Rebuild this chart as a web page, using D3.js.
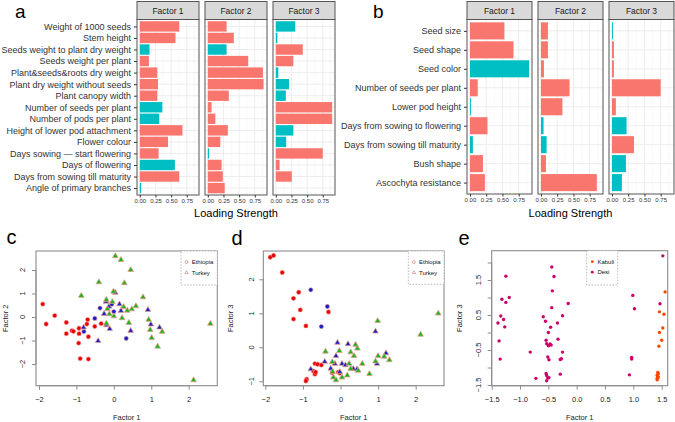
<!DOCTYPE html>
<html><head><meta charset="utf-8">
<script src="https://cdn.jsdelivr.net/npm/d3@7"></script>
<style>body{margin:0;background:#fff} svg{display:block;font-family:"Liberation Sans",Arial,Helvetica,sans-serif}</style>
</head><body><svg id="fig" width="675" height="422"></svg>
<script>
// ---------------- DATA ----------------
const factorNames = ["Factor 1", "Factor 2", "Factor 3"];
const loadingTicks = [0, 0.25, 0.5, 0.75];

const traitsA = ["Weight of 1000 seeds","Stem height","Seeds weight to plant dry weight","Seeds weight per plant",
  "Plant&seeds&roots dry weight","Plant dry weight without seeds","Plant canopy width","Number of seeds per plant",
  "Number of pods per plant","Height of lower pod attachment","Flower colour","Days sowing \u2014 start flowering",
  "Days of flowering","Days from sowing till maturity","Angle of primary branches"];
// signed loadings (positive = red, negative = teal)
const loadA1 = [0.63, 0.57, -0.155, 0.145, 0.28, 0.29, 0.28, -0.36, -0.31, 0.68, 0.45, 0.30, -0.56, 0.63, -0.02];
const loadA2 = [0.30, 0.415, -0.30, 0.645, 0.88, 0.89, 0.335, 0.06, 0.12, 0.32, 0.20, -0.02, 0.22, 0.24, 0.27];
const loadA3 = [-0.31, -0.025, 0.43, 0.28, -0.04, -0.21, -0.16, 0.90, 0.90, -0.28, -0.165, 0.75, 0.06, 0.255, 0];

const traitsB = ["Seed size","Seed shape","Seed color","Number of seeds per plant","Lower pod height",
  "Days from sowing to flowering","Days from sowing till maturity","Bush shape","Ascochyta resistance"];
const loadB1 = [0.53, 0.67, -0.91, 0.12, -0.015, 0.27, -0.045, 0.20, 0.23];
const loadB2 = [0.107, 0.107, 0.046, 0.44, 0.33, -0.04, -0.087, 0.077, 0.86];
const loadB3 = [-0.015, 0.03, 0.03, 0.75, 0.06, -0.225, 0.34, -0.215, -0.153];

// panel c: Factor 1 vs Factor 2
const cEthCl1 = [[-1.90,0.55],[-1.81,-0.30],[-1.58,0.06],[-1.27,-0.23],[-1.27,-0.71],[-1.12,-0.58],[-1.08,-0.61],
  [-0.93,-0.48],[-0.93,-0.71],[-0.94,-1.11],[-0.90,-1.77],[-0.68,-1.79],[-0.68,-0.84],[-0.72,-0.30],[-0.70,-0.11],
  [-0.51,-0.40],[-0.34,-0.28]];
const cEthCl2 = [[-0.37,0.38],[-0.51,-0.06],[-0.80,-0.62],[0.00,0.23],[0.33,-0.91],[-0.06,0.54]];
const cTurCl2 = [[0.04,1.04],[-0.21,0.66],[-0.13,0.45],[-0.26,0.14],[0.15,0.55],[0.19,0.27],[0.91,0.31],
  [0.99,-0.31],[1.22,-0.44],[0.45,-0.58],[-0.11,-0.50],[-0.20,-0.34],[-0.42,-1.01],[-0.81,-0.44]];
const cTurCl3 = [[0.04,2.60],[0.19,2.44],[0.45,2.01],[-0.40,1.49],[0.28,1.45],[-0.87,0.91],[-0.01,1.09],[0.78,0.85],
  [-0.20,0.74],[-0.04,0.65],[-0.17,0.35],[0.26,0.44],[0.59,0.47],[0.48,0.34],[0.36,0.28],[-0.12,0.13],[0.00,0.04],
  [0.22,-0.04],[0.93,-0.11],[-0.20,-0.27],[0.40,-0.24],[0.97,-0.54],[1.29,-0.62],[1.01,-0.88],[1.17,-1.25],
  [2.13,-2.68],[2.58,-0.28]];

// panel d: Factor 1 vs Factor 3
const dEthCl1 = [[-1.87,2.65],[-1.78,2.70],[-1.55,2.20],[-1.11,1.62],[-1.25,1.44],[-1.07,1.10],[-1.25,0.83],
  [-0.92,0.63],[-0.32,1.04],[-0.90,-0.94],[-0.92,-0.99],[-0.72,-0.70],[-0.68,-0.79],[-0.66,-0.73],[-0.68,-0.48],
  [-0.61,-0.50],[-0.51,-0.52],[-0.06,-0.73],[-0.02,-0.76],[-0.22,-0.75]];
const dEthCl2 = [[-0.79,1.69],[-0.35,1.20],[-0.51,0.61]];
const dTurCl2 = [[0.93,0.47],[-0.08,0.14],[0.20,0.10],[1.21,-0.17],[0.97,-0.48],[-0.12,-0.25],[-0.42,-0.42],
  [-0.79,-0.64],[-0.15,-0.48],[-0.26,-0.62],[0.04,-0.48],[0.13,-0.52],[0.34,-0.63],[0.44,-0.64],[-0.02,-0.72]];
const dTurCl3 = [[2.60,1.00],[2.13,0.38],[0.99,0.78],[0.40,0.08],[0.45,-0.03],[-0.03,-0.10],[-0.40,-0.12],
  [0.27,-0.14],[0.36,-0.25],[1.00,-0.25],[1.16,-0.27],[1.30,-0.37],[0.93,-0.41],[0.58,-0.48],[0.77,-0.78],
  [-0.22,-0.43],[0.23,-0.48],[0.27,-0.63],[0.47,-0.68],[0.18,-0.82],[0.04,-0.88],[-0.19,-0.88],[-0.12,-0.96],
  [-0.21,-0.72]];

// panel e: Factor 1 vs Factor 3 by type
const eDesi = [[-1.25,1.61],[-1.25,0.86],[-1.32,0.95],[-1.19,1.00],[-1.34,0.47],[-1.29,0.37],[-1.39,0.27],
  [-1.27,0.16],[-1.37,-0.24],[-1.35,-0.76],[-0.44,1.87],[-0.40,1.60],[-0.43,1.19],[-0.44,0.71],[-0.59,0.45],
  [-0.55,0.32],[-0.15,0.83],[-0.25,0.48],[-0.34,0.27],[-0.46,0.15],[-0.50,0.00],[-0.54,-0.22],[-0.53,-0.32],
  [-0.47,-0.33],[-0.50,-0.38],[-0.45,-0.36],[-0.33,-0.19],[-0.82,-0.56],[-0.25,-0.56],[-0.51,-0.70],[-0.49,-0.78],
  [-0.29,-0.77],[-0.27,-0.75],[-0.29,-1.19],[-0.72,-1.31],[-0.54,-1.17],[-0.53,-1.23],[-0.49,-1.29],[-0.53,-1.38],
  [-0.51,-1.30],[0.97,-0.71],[0.97,-0.76],[0.93,-1.21],[0.99,1.06],[1.02,0.68],[1.52,2.19],[1.47,0.82]];
const eKabuli = [[1.56,1.16],[1.46,0.59],[1.54,0.52],[1.52,0.13],[1.46,0.00],[1.50,-0.22],[1.45,-0.39],
  [1.43,-1.14],[1.44,-1.18],[1.42,-1.22],[1.43,-1.25],[1.44,-1.28],[1.42,-1.31],[1.42,-1.35]];

// ---------------- DRAWING ----------------
const svg = d3.select("#fig");
const RED = "#F8766D", TEAL = "#00BFC4";

function facetChart(traits, loads, panelsX, top, bottom, xDom, titleX) {
  const y = d3.scalePoint().domain(traits).range([top, bottom]).padding(0.6);
  const bh = y.step() * 0.9;
  const gy = svg.append("g").attr("transform", `translate(${panelsX[0][0]},0)`)
    .call(d3.axisLeft(y).tickSize(3).tickPadding(3));
  gy.select(".domain").remove();
  gy.selectAll("line").attr("stroke", "#333");
  gy.selectAll("text").attr("font-size", 9).attr("fill", "#333").attr("font-family", "Liberation Sans, Arial, sans-serif");

  panelsX.forEach((px, i) => {
    const x = d3.scaleLinear().domain(xDom).range(px);
    const g = svg.append("g");
    g.append("rect").attr("x", px[0]).attr("y", top).attr("width", px[1]-px[0]).attr("height", bottom-top).attr("fill", "#fff");
    const minor = [0.125, 0.375, 0.625, 0.875].filter(v => v <= xDom[1]);
    g.selectAll(".mn").data(minor).join("line").attr("x1", d => x(d)).attr("x2", d => x(d))
      .attr("y1", top).attr("y2", bottom).attr("stroke", "#F2F2F2").attr("stroke-width", 0.5);
    g.selectAll(".mj").data(loadingTicks).join("line").attr("x1", d => x(d)).attr("x2", d => x(d))
      .attr("y1", top).attr("y2", bottom).attr("stroke", "#EBEBEB").attr("stroke-width", 0.9);
    g.selectAll(".hg").data(traits).join("line").attr("x1", px[0]).attr("x2", px[1])
      .attr("y1", d => y(d)).attr("y2", d => y(d)).attr("stroke", "#EBEBEB").attr("stroke-width", 0.9);
    g.selectAll(".bar").data(traits.map((t, j) => ({t, v: loads[i][j]}))).join("rect")
      .attr("x", x(0)).attr("y", d => y(d.t) - bh/2)
      .attr("width", d => Math.max(0, x(Math.abs(d.v)) - x(0))).attr("height", bh)
      .attr("fill", d => d.v >= 0 ? RED : TEAL);
    g.append("rect").attr("x", px[0]).attr("y", top).attr("width", px[1]-px[0]).attr("height", bottom-top)
      .attr("fill", "none").attr("stroke", "#555").attr("stroke-width", 1);
    // strip
    g.append("rect").attr("x", px[0]).attr("y", 1.5).attr("width", px[1]-px[0]).attr("height", top-1.5)
      .attr("fill", "#D9D9D9").attr("stroke", "#555").attr("stroke-width", 1);
    g.append("text").attr("x", (px[0]+px[1])/2).attr("y", (top+1.5)/2 + 3).attr("text-anchor", "middle")
      .attr("font-size", 8.5).attr("fill", "#1A1A1A").text(factorNames[i]);
    const gx = svg.append("g").attr("transform", `translate(0,${bottom})`)
      .call(d3.axisBottom(x).tickValues(loadingTicks).tickFormat(d3.format(".2f")).tickSize(2.5).tickPadding(1.5));
    gx.select(".domain").remove();
    gx.selectAll("line").attr("stroke", "#333");
    gx.selectAll("text").attr("font-size", 6).attr("fill", "#333").attr("font-family", "Liberation Sans, Arial, sans-serif");
  });
  svg.append("text").attr("x", titleX).attr("y", 217).attr("text-anchor", "middle")
    .attr("font-size", 11).attr("fill", "#000").text("Loading Strength");
}

facetChart(traitsA, [loadA1, loadA2, loadA3], [[137,199],[205,267],[273,335]], 19.5, 195, [-0.045, 0.945], 236);
facetChart(traitsB, [loadB1, loadB2, loadB3], [[467,532],[538,603],[609,674]], 19.5, 194, [-0.0455, 0.955], 570.5);

// panel letters
[["a", 15, 17.5, 19], ["b", 373, 17.5, 19], ["c", 6.5, 244, 20], ["d", 231.5, 245, 20], ["e", 458.5, 245, 20]].forEach(([t, x, y, fs]) =>
  svg.append("text").attr("x", x).attr("y", y).attr("font-size", fs).attr("fill", "#000").text(t));

const tri = "M0,-3.1L2.8,1.75L-2.8,1.75Z";
const styles = {
  eth1: {shape: "c", fill: "#E60000", stroke: "#F39A9A"},
  eth2: {shape: "c", fill: "#1C1CC8", stroke: "#E6A0A0"},
  tur2: {shape: "t", fill: "#1C1CC8", stroke: "#DDA08C"},
  tur3: {shape: "t", fill: "#17B317", stroke: "#DDA08C"},
  desi: {shape: "d", fill: "#CC0066"},
  kabuli: {shape: "d", fill: "#FF4500"}
};

function scatterPanel(cfg) {
  const g = svg.append("g");
  const x = d3.scaleLinear().domain(cfg.xd).range(cfg.xr);
  const y = d3.scaleLinear().domain(cfg.yd).range(cfg.yr);
  const [bx0, bx1, by0, by1] = cfg.box;
  g.append("rect").attr("x", bx0).attr("y", by0).attr("width", bx1-bx0).attr("height", by1-by0)
    .attr("fill", "#fff").attr("stroke", "#8C8C8C").attr("stroke-width", 1.1);
  // x axis
  const gx = g.append("g").attr("transform", `translate(0,${by1})`)
    .call(d3.axisBottom(x).tickValues(cfg.xt).tickFormat(cfg.xf).tickSize(4).tickPadding(7));
  gx.select(".domain").attr("stroke", "#8C8C8C").attr("d", `M${x(cfg.xt[0])},0H${x(cfg.xt[cfg.xt.length-1])}`);
  gx.selectAll("line").attr("stroke", "#8C8C8C");
  gx.selectAll("text").attr("font-size", 7.5).attr("fill", "#222").attr("font-family", "Liberation Sans, Arial, sans-serif");
  // y axis (rotated labels)
  const gy = g.append("g").attr("transform", `translate(${bx0},0)`)
    .call(d3.axisLeft(y).tickValues(cfg.yt).tickSize(4).tickFormat(""));
  gy.select(".domain").attr("stroke", "#8C8C8C").attr("d", `M0,${y(cfg.yt[0])}V${y(cfg.yt[cfg.yt.length-1])}`);
  gy.selectAll("line").attr("stroke", "#8C8C8C");
  g.selectAll(".yl").data(cfg.ytl).join("text")
    .attr("transform", d => `translate(${cfg.ylx},${y(d)}) rotate(-90)`)
    .attr("text-anchor", "middle").attr("dy", "0.35em").attr("font-size", 7.5).attr("fill", "#222")
    .text(cfg.yf);
  // titles
  g.append("text").attr("x", (bx0+bx1)/2).attr("y", 419.5).attr("text-anchor", "middle")
    .attr("font-size", 7.5).attr("fill", "#222").text(cfg.xTitle);
  g.append("text").attr("transform", `translate(${cfg.ytx},${(by0+by1)/2}) rotate(-90)`)
    .attr("text-anchor", "middle").attr("dy", "0.35em").attr("font-size", 7.5).attr("fill", "#222").text(cfg.yTitle);
  // points
  cfg.series.forEach(([data, key]) => {
    const st = styles[key];
    const pts = g.append("g").selectAll("path").data(data).join("path")
      .attr("transform", d => `translate(${x(d[0])},${y(d[1])})`);
    if (st.shape === "t") pts.attr("d", tri).attr("fill", st.fill).attr("stroke", st.stroke).attr("stroke-width", 0.8);
    else if (st.shape === "c") pts.attr("d", d3.symbol(d3.symbolCircle, 15)()).attr("fill", st.fill).attr("stroke", st.stroke).attr("stroke-width", 0.6);
    else pts.attr("d", d3.symbol(d3.symbolCircle, 9)()).attr("fill", st.fill);
  });
  // legend
  const lg = g.append("g");
  const [lx0, lx1, ly0, ly1] = cfg.lbox;
  lg.append("rect").attr("x", lx0).attr("y", ly0).attr("width", lx1-lx0).attr("height", ly1-ly0)
    .attr("fill", "#fff").attr("stroke", "#A8A8A8").attr("stroke-width", 0.8).attr("stroke-dasharray", "1.5,1.5");
  cfg.legend.forEach(([label, kind], i) => {
    const yy = ly0 + 11 + i * 10.5;
    const sx = lx0 + 5.6;
    if (kind === "hc") lg.append("circle").attr("cx", sx).attr("cy", yy).attr("r", 1.5).attr("fill", "none").attr("stroke", "#D07070").attr("stroke-width", 0.6);
    else if (kind === "ht") lg.append("path").attr("transform", `translate(${sx},${yy}) scale(0.6)`).attr("d", tri).attr("fill", "none").attr("stroke", "#D07070").attr("stroke-width", 1);
    else lg.append("circle").attr("cx", sx).attr("cy", yy).attr("r", 1.4).attr("fill", styles[kind].fill);
    lg.append("text").attr("x", lx0 + 10.7).attr("y", yy).attr("dy", "0.35em").attr("font-size", 6).attr("fill", "#111").text(label);
  });
}

const intFmt = d3.format("d");
scatterPanel({
  xd: [-2, 2], xr: [39, 188.7], yd: [-2, 2], yr: [364, 270],
  box: [36, 217.3, 251, 385.7], xt: [-2, -1, 0, 1, 2], xf: intFmt, yt: [-2, -1, 0, 1, 2], ytl: [-2, -1, 0, 1, 2], yf: intFmt,
  ylx: 22, ytx: 5, xTitle: "Factor 1", yTitle: "Factor 2",
  series: [[cEthCl1, "eth1"], [cEthCl2, "eth2"], [cTurCl2, "tur2"], [cTurCl3, "tur3"]],
  lbox: [181, 217.3, 251, 285], legend: [["Ethiopia", "hc"], ["Turkey", "ht"]]
});
scatterPanel({
  xd: [-2, 2], xr: [265.3, 415.7], yd: [-1, 2], yr: [381.3, 279.3],
  box: [263.3, 444, 251, 385.7], xt: [-2, -1, 0, 1, 2], xf: intFmt, yt: [-1, 0, 1, 2], ytl: [-1, 0, 1, 2], yf: intFmt,
  ylx: 251, ytx: 230, xTitle: "Factor 1", yTitle: "Factor 3",
  series: [[dEthCl1, "eth1"], [dEthCl2, "eth2"], [dTurCl2, "tur2"], [dTurCl3, "tur3"]],
  lbox: [408.3, 444, 251, 284.3], legend: [["Ethiopia", "hc"], ["Turkey", "ht"]]
});
scatterPanel({
  xd: [-1.5, 1.5], xr: [491.7, 661.7], yd: [-1.5, 1.5], yr: [385, 280],
  box: [491.7, 667.7, 250.7, 385.7], xt: [-1.5, -1, -0.5, 0, 0.5, 1, 1.5], xf: d3.format(".1f"),
  yt: [-1.5, -1, -0.5, 0, 0.5, 1, 1.5, 2], ytl: [-1.5, -0.5, 0.5, 1.5], yf: d3.format(".1f"),
  ylx: 478.3, ytx: 459, xTitle: "Factor 1", yTitle: "Factor 3",
  series: [[eDesi, "desi"], [eKabuli, "kabuli"]],
  lbox: [586.7, 617.7, 250.7, 285], legend: [["Kabuli", "kabuli"], ["Desi", "desi"]]
});
</script>
</body></html>
